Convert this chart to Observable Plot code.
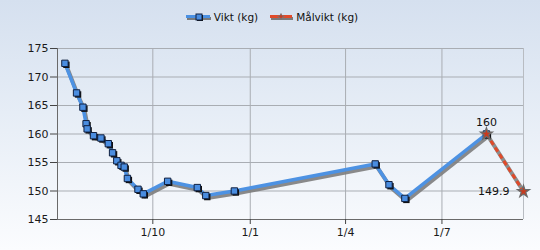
<!DOCTYPE html>
<html>
<head>
<meta charset="utf-8">
<script src="https://cdn.jsdelivr.net/npm/d3@7"></script>
<script src="https://cdn.jsdelivr.net/npm/@observablehq/plot@0.6"></script>
<style>
  html, body { margin: 0; padding: 0; }
  body {
    width: 540px; height: 250px; overflow: hidden;
    background: linear-gradient(180deg, #d5e0ef 0%, #e6edf6 45%, #fbfcfe 100%);
    font-family: "DejaVu Sans", sans-serif;
  }
  #legend {
    height: 34px; display: flex; justify-content: center; align-items: center;
    font-size: 10.5px; color: #111; padding-left: 4px; box-sizing: border-box;
  }
  #legend .item { display: flex; align-items: center; }
  #legend svg { margin-right: 2px; }
  #legend .item + .item { margin-left: 12px; }
</style>
</head>
<body>
<div id="legend"></div>
<div id="chart"></div>
<script>
// ---- data ----
const viktDates = [
  "2013-07-10","2013-07-21","2013-07-27","2013-07-30","2013-07-31","2013-08-06",
  "2013-08-13","2013-08-20","2013-08-24","2013-08-28","2013-09-01","2013-09-04",
  "2013-09-07","2013-09-17","2013-09-22","2013-10-15","2013-11-12","2013-11-20",
  "2013-12-17","2014-04-29","2014-05-12","2014-05-27","2014-08-12"
];
const viktValues = [
  172.4, 167.2, 164.7, 161.8, 160.9, 159.7,
  159.3, 158.3, 156.7, 155.3, 154.5, 154.2,
  152.2, 150.3, 149.5, 151.7, 150.6, 149.2,
  150.0, 154.75, 151.1, 148.7, 160
];
const malDates = ["2014-08-12", "2014-09-16"];
const malValues = [160, 149.9];
const malLabels = ["160", "149.9"];
const xTicks = ["2013-10-01", "2014-01-01", "2014-04-01", "2014-07-01"];
const yTicks = [145, 150, 155, 160, 165, 170, 175];
const xDomain = ["2013-07-03", "2014-09-16"];
const seriesNames = ["Vikt (kg)", "Målvikt (kg)"];

const vikt = viktDates.map((d, i) => ({date: new Date(d), value: viktValues[i]}));
const mal = malDates.map((d, i) => ({date: new Date(d), value: malValues[i], label: malLabels[i]}));
const ticks = xTicks.map(d => new Date(d));
const dom = xDomain.map(d => new Date(d));

// ---- legend ----
const legend = document.getElementById("legend");
legend.innerHTML = `
  <span class="item">
    <svg width="26" height="10">
      <line x1="1" y1="6.5" x2="25" y2="6.5" stroke="#7a7a7a" stroke-width="3"/>
      <line x1="0" y1="4.5" x2="24" y2="4.5" stroke="#4a90e2" stroke-width="3"/>
      <rect x="11" y="3" width="6" height="6" fill="#111"/>
      <rect x="10" y="2" width="6" height="6" fill="#4a8de0" stroke="#102040" stroke-width="1"/>
    </svg>${seriesNames[0]}</span>
  <span class="item">
    <svg width="24" height="10">
      <line x1="1" y1="6.5" x2="23" y2="6.5" stroke="#7a7a7a" stroke-width="3"/>
      <line x1="0" y1="4.5" x2="22" y2="4.5" stroke="#e04a2a" stroke-width="3"/>
      <path d="M11,1.5 L12.1,3.6 L14.5,4.5 L12.1,5.4 L11,7.5 L9.9,5.4 L7.5,4.5 L9.9,3.6Z" fill="#c83a1e" stroke="#777" stroke-width="0.8"/>
    </svg>${seriesNames[1]}</span>`;

// ---- chart ----
const chart = Plot.plot({
  width: 540,
  height: 216,
  marginLeft: 57,
  marginRight: 17,
  marginTop: 14,
  marginBottom: 31,
  style: {background: "transparent", fontFamily: "DejaVu Sans, sans-serif", fontSize: "11px", color: "#1a1a1a"},
  x: {type: "utc", domain: dom, ticks: ticks, tickFormat: d3.utcFormat("%-d/%-m"), label: null, tickSize: 5, tickPadding: 4},
  y: {domain: [145, 175], ticks: yTicks, label: null, tickSize: 7, tickPadding: 2},
  marks: [
    Plot.gridY(yTicks, {stroke: "#a9adb3", strokeOpacity: 1}),
    Plot.gridX(ticks, {stroke: "#a9adb3", strokeOpacity: 1}),
    Plot.ruleX([dom[1]], {stroke: "#b8bcc2"}),
    Plot.ruleY([145], {stroke: "#6a6a6a"}),
    Plot.ruleX([dom[0]], {stroke: "#6a6a6a"}),
    Plot.axisX({ticks: ticks, tickFormat: d3.utcFormat("%-d/%-m"), tickSize: 5, tickPadding: 4, stroke: "#444"}),
    Plot.axisY({ticks: yTicks, tickSize: 7, tickPadding: 2, stroke: "#444"}),
    // shadows
    Plot.line(vikt, {x: "date", y: "value", stroke: "#7d7d7d", strokeWidth: 4, dx: 1.5, dy: 2.5, strokeOpacity: 0.9}),
    Plot.line(mal, {x: "date", y: "value", stroke: "#8c8c8c", strokeWidth: 4, dx: 0.5, dy: 0.5}),
    // lines
    Plot.line(vikt, {x: "date", y: "value", stroke: "#4d92e3", strokeWidth: 3.5}),
    Plot.line(mal, {x: "date", y: "value", stroke: "#e04a2a", strokeWidth: 3, strokeDasharray: "5,3", strokeLinecap: "butt"}),
    // markers
    Plot.dot(vikt, {x: "date", y: "value", symbol: "square", r: 3.6, fill: "#111", dx: 1.5, dy: 1.5}),
    Plot.dot(vikt, {x: "date", y: "value", symbol: "square", r: 3.6, fill: "#4a8de0", stroke: "#102040", strokeWidth: 1}),
    Plot.dot(mal, {x: "date", y: "value", symbol: "star", r: 3.8, fill: "#c83a1e", stroke: "#6b6b6b", strokeWidth: 1.2}),
    // labels
    Plot.text(mal.slice(0, 1), {x: "date", y: "value", text: "label", dy: -12, fill: "#111", fontSize: 11}),
    Plot.text(mal.slice(1), {x: "date", y: "value", text: "label", dx: -14, textAnchor: "end", fill: "#111", fontSize: 11})
  ]
});
document.getElementById("chart").appendChild(chart);
</script>
</body>
</html>
